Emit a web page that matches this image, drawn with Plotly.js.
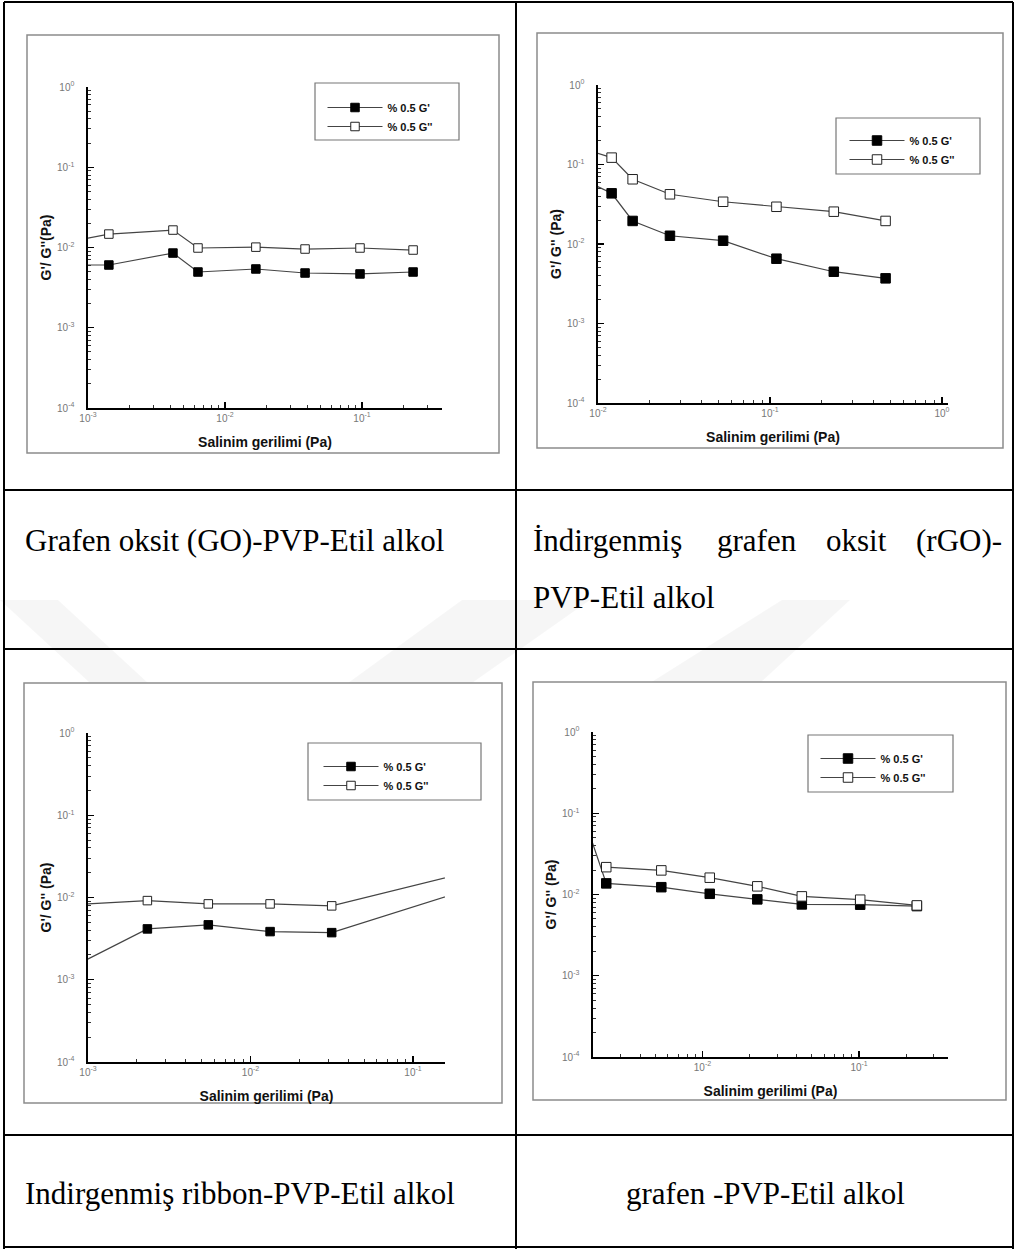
<!DOCTYPE html>
<html>
<head>
<meta charset="utf-8">
<script src="https://cdn.plot.ly/plotly-3.0.1.min.js"></script>
<style>html,body{margin:0;padding:0;background:#fff;}#chart{width:1016px;height:1249px;}</style>
</head>
<body>
<div id="chart"></div>
<script>
// ---------------- DATA ----------------
// Panel 1: Grafen oksit (GO)-PVP-Etil alkol
const p1_x   = [0.0008, 0.00142, 0.00417, 0.00635, 0.0168, 0.0384, 0.0967, 0.236];
const p1_gp  = [0.00605, 0.00605, 0.00853, 0.00495, 0.0054, 0.00481, 0.00468, 0.00495];
const p1_gpp = [0.0121, 0.0147, 0.0165, 0.00986, 0.0101, 0.00957, 0.00986, 0.0093];
// Panel 2: İndirgenmiş grafen oksit (rGO)-PVP-Etil alkol
const p2_x   = [0.009, 0.0120, 0.0159, 0.0262, 0.0534, 0.109, 0.235, 0.470];
const p2_gp  = [0.0587, 0.0434, 0.0195, 0.0127, 0.0110, 0.00653, 0.00448, 0.00370];
const p2_gpp = [0.149, 0.122, 0.0652, 0.0422, 0.0340, 0.0294, 0.0255, 0.0195];
// Panel 3: Indirgenmiş ribbon-PVP-Etil alkol
const p3_x   = [0.00079, 0.00232, 0.00550, 0.0132, 0.0316, 0.2];
const p3_gp  = [0.00141, 0.00415, 0.00465, 0.00385, 0.00374, 0.0118];
const p3_gpp = [0.00815, 0.00917, 0.00836, 0.00836, 0.00791, 0.0194];
// Panel 4: grafen -PVP-Etil alkol
const p4_x   = [0.00178, 0.00243, 0.00546, 0.01113, 0.0224, 0.0431, 0.1017, 0.234];
const p4_gp  = [0.080, 0.0137, 0.0123, 0.0102, 0.00871, 0.00755, 0.00749, 0.00720];
const p4_gpp = [null, 0.0217, 0.0198, 0.0161, 0.0126, 0.00948, 0.00863, 0.00734];

const seriesNames = ["% 0.5 G'", "% 0.5 G''"];
const xTitle = "Salinim gerilimi (Pa)";
const yTitles = ["G'/ G''(Pa)", "G'/ G'' (Pa)", "G'/ G'' (Pa)", "G'/ G'' (Pa)"];
const yTickVals = [1e-4, 1e-3, 1e-2, 1e-1, 1];
const yTickText = ["10<sup>-4</sup>", "10<sup>-3</sup>", "10<sup>-2</sup>", "10<sup>-1</sup>", "10<sup>0</sup>"];
const x1TickVals = [1e-3, 1e-2, 1e-1];
const x1TickText = ["10<sup>-3</sup>", "10<sup>-2</sup>", "10<sup>-1</sup>"];
const x2TickVals = [1e-2, 1e-1, 1];
const x2TickText = ["10<sup>-2</sup>", "10<sup>-1</sup>", "10<sup>0</sup>"];
const x4TickVals = [1e-2, 1e-1];
const x4TickText = ["10<sup>-2</sup>", "10<sup>-1</sup>"];

const caption1 = "Grafen oksit (GO)-PVP-Etil alkol";
const caption2Line1 = ["İndirgenmiş", "grafen", "oksit", "(rGO)-"];
const caption2Line2 = "PVP-Etil alkol";
const caption3 = "Indirgenmiş ribbon-PVP-Etil alkol";
const caption4 = "grafen -PVP-Etil alkol";

// ---------------- LAYOUT HELPERS ----------------
const W = 1016, H = 1249;
const fx = x => x / W;
const fy = y => 1 - y / H;

const panels = [
  {x: p1_x, gp: p1_gp, gpp: p1_gpp, xr: [-3, -0.416], xpx: [88, 442], ypx: [87, 408], tv: x1TickVals, tt: x1TickText, ms: 8.5, leg: {mx: 355, ry: 107}, box: [315, 83, 459, 140]},
  {x: p2_x, gp: p2_gp, gpp: p2_gpp, xr: [-2, 0.035], xpx: [598, 948], ypx: [85, 403], tv: x2TickVals, tt: x2TickText, ms: 9.5, leg: {mx: 877, ry: 140}, box: [836, 118, 980, 174]},
  {x: p3_x, gp: p3_gp, gpp: p3_gpp, xr: [-3, -0.803], xpx: [88, 445], ypx: [733, 1062], tv: x1TickVals, tt: x1TickText, ms: 8.5, leg: {mx: 351, ry: 766}, box: [308, 743, 481, 800]},
  {x: p4_x, gp: p4_gp, gpp: p4_gpp, xr: [-2.699, -0.432], xpx: [593, 948], ypx: [732, 1057], tv: x4TickVals, tt: x4TickText, ms: 9.5, leg: {mx: 848, ry: 758}, box: [808, 735, 953, 792]}
];

const tickFont = {family: "Liberation Sans, Arial, sans-serif", size: 10, color: "#777"};
const titleFont = {family: "Liberation Sans, Arial, sans-serif", size: 14, color: "#111", weight: "bold"};
const LEG_ITEM_W = 55;

const traces = [];
const layout = {
  width: W, height: H,
  margin: {l: 0, r: 0, t: 0, b: 0},
  paper_bgcolor: "#fff", plot_bgcolor: "rgba(0,0,0,0)",
  showlegend: true,
  shapes: [], annotations: []
};

// watermark (very faint)
const wm = [
  "M 0 600 L 58 600 L 148 683 L 90 683 Z",
  "M 462 600 L 590 600 L 472 683 L 348 683 Z",
  "M 782 600 L 850 600 L 760 683 L 650 683 Z"
];
wm.forEach(p => {
  const path = p.replace(/(\d+) (\d+)/g, (m, a, b) => fx(+a) + " " + fy(+b));
  layout.shapes.push({type: "path", xref: "paper", yref: "paper", path: path, fillcolor: "rgba(0,0,0,0.035)", line: {width: 0}, layer: "below"});
});

// chart frames (white image areas with grey border)
const frames = [[27, 35, 499, 453], [537, 33, 1003, 448], [24, 683, 502, 1103], [533, 682, 1006, 1100]];
frames.forEach(f => {
  layout.shapes.push({type: "rect", xref: "paper", yref: "paper", x0: fx(f[0]), x1: fx(f[2]), y0: fy(f[1]), y1: fy(f[3]),
    line: {color: "#8c8c8c", width: 1.5}, fillcolor: "#fff", layer: "below"});
});

// table lines
const tbl = (x0, y0, x1, y1) => layout.shapes.push({type: "line", xref: "paper", yref: "paper", x0: fx(x0), y0: fy(y0), x1: fx(x1), y1: fy(y1), line: {color: "#000", width: 2}, layer: "above"});
tbl(4, 2, 1013, 2);
tbl(4, 490, 1013, 490);
tbl(4, 649, 1013, 649);
tbl(4, 1135, 1013, 1135);
tbl(4, 1247, 1013, 1247);
tbl(4, 2, 4, 1249);
tbl(516, 2, 516, 1249);
tbl(1013, 2, 1013, 1249);

panels.forEach((p, i) => {
  const n = i + 1;
  const xa = n === 1 ? "xaxis" : "xaxis" + n;
  const ya = n === 1 ? "yaxis" : "yaxis" + n;
  const xr = n === 1 ? "x" : "x" + n;
  const yr = n === 1 ? "y" : "y" + n;
  const lg = n === 1 ? "legend" : "legend" + n;
  layout[xa] = {
    type: "log", range: p.xr, domain: [fx(p.xpx[0]), fx(p.xpx[1])], anchor: yr,
    showline: true, linecolor: "#000", linewidth: 1.6, mirror: false,
    ticks: "inside", ticklen: 6, tickwidth: 1.3, tickcolor: "#000",
    tickmode: "array", tickvals: p.tv, ticktext: p.tt, tickfont: tickFont,
    minor: {ticks: "inside", ticklen: 3, tickwidth: 1, tickcolor: "#333", dtick: "D1"},
    showgrid: false, zeroline: false, fixedrange: true,
    title: {text: xTitle, font: titleFont, standoff: 14}
  };
  layout[ya] = {
    type: "log", range: [-4, 0], domain: [fy(p.ypx[1]), fy(p.ypx[0])], anchor: xr,
    showline: true, linecolor: "#000", linewidth: 1.6, mirror: false,
    ticks: "inside", ticklen: 6, tickwidth: 1.3, tickcolor: "#000",
    tickmode: "array", tickvals: yTickVals, ticktext: yTickText, tickfont: tickFont,
    ticklabelstandoff: 10,
    minor: {ticks: "inside", ticklen: 3, tickwidth: 1, tickcolor: "#333", dtick: "D1"},
    showgrid: false, zeroline: false, fixedrange: true,
    title: {text: yTitles[i], font: titleFont, standoff: 2}
  };
  traces.push({
    type: "scatter", mode: "lines+markers", x: p.x, y: p.gp, xaxis: xr, yaxis: yr, name: seriesNames[0], legend: lg,
    line: {color: "#444", width: 1.2}, marker: {symbol: "square", size: p.ms, color: "#000", line: {color: "#000", width: 1}},
    cliponaxis: true, connectgaps: false
  });
  traces.push({
    type: "scatter", mode: "lines+markers", x: p.x, y: p.gpp, xaxis: xr, yaxis: yr, name: seriesNames[1], legend: lg,
    line: {color: "#444", width: 1.2}, marker: {symbol: "square", size: p.ms, color: "#fff", line: {color: "#222", width: 1}},
    cliponaxis: true, connectgaps: false
  });
  layout[lg] = {
    x: fx(p.leg.mx - 5 - LEG_ITEM_W / 2), y: fy(p.leg.ry - 14), xanchor: "left", yanchor: "top", xref: "paper", yref: "paper",
    bgcolor: "rgba(0,0,0,0)", borderwidth: 0, itemwidth: LEG_ITEM_W, tracegroupgap: 0,
    font: {family: "Liberation Sans, Arial, sans-serif", size: 11, color: "#111", weight: "bold"}
  };
  const b = p.box;
  layout.shapes.push({type: "rect", xref: "paper", yref: "paper", x0: fx(b[0]), x1: fx(b[2]), y0: fy(b[1]), y1: fy(b[3]),
    line: {color: "#777", width: 1.2}, fillcolor: "rgba(0,0,0,0)", layer: "above"});
});

// captions
const capFont = {family: "Liberation Serif, Times New Roman, serif", size: 31, color: "#000"};
const cap = (text, x, y, anchor) => layout.annotations.push({text: text, x: fx(x), y: fy(y), xref: "paper", yref: "paper",
  xanchor: anchor, yanchor: "middle", showarrow: false, font: capFont});
cap(caption1, 23, 541, "left");
const wordX = [531, 715, 824, 1004];
caption2Line1.forEach((w, k) => cap(w, wordX[k], 541, k === 3 ? "right" : "left"));
cap(caption2Line2, 531, 597, "left");
cap(caption3, 23, 1193, "left");
cap(caption4, 765, 1193, "center");

Plotly.newPlot("chart", traces, layout, {staticPlot: true, displayModeBar: false});
</script>
</body>
</html>
